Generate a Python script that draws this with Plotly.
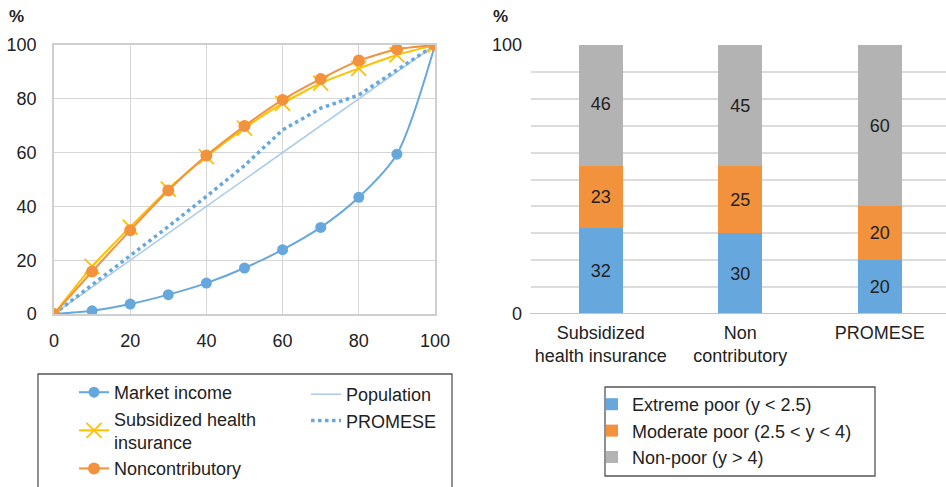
import plotly.graph_objects as go

# ---------------- data ----------------
pct = [0, 10, 20, 30, 40, 50, 60, 70, 80, 90, 100]
market_income = [0, 1.2, 3.7, 7.2, 11.5, 17.1, 23.9, 32.2, 43.4, 59.4, 100]
subsidized = [0, 17.7, 32.3, 46.4, 58.5, 69.1, 78.3, 85.8, 91.3, 96.3, 100]
noncontributory = [0, 15.8, 31.1, 45.9, 58.9, 69.9, 79.6, 87.4, 94.2, 98.4, 100]
population = [0, 10, 20, 30, 40, 50, 60, 70, 80, 90, 100]
promese = [0, 10.8, 21.4, 32.5, 43.7, 55.2, 68.4, 76.5, 81.4, 90.7, 100]

programs = ["Subsidized<br>health insurance", "Non<br>contributory", "PROMESE"]
extreme_poor = [32, 30, 20]
moderate_poor = [23, 25, 20]
non_poor = [46, 45, 60]

left_ticks = [0, 20, 40, 60, 80, 100]
right_grid = [0, 10, 20, 30, 40, 50, 60, 70, 80, 90, 100]
right_ticktext = ["0", "", "", "", "", "", "", "", "", "", "100"]

# ---------------- style ----------------
W, H = 946, 487
BLUE = "#66A8DD"
ORANGE = "#F2923D"
YELLOW = "#FFC000"
LIGHTBLUE = "#A9CBEA"
GREY = "#B3B3B3"
TXT = "#222222"
FONT = "Liberation Sans, Arial, sans-serif"
FS = 18


def px(x):
    return x / W


def py(y):
    return 1 - y / H


fig = go.Figure()

fig.add_trace(go.Scatter(
    x=pct, y=market_income, name="Market income", mode="lines+markers",
    line=dict(color=BLUE, width=2, shape="spline", smoothing=0.8),
    marker=dict(color=BLUE, size=11), legend="legend",
    xaxis="x", yaxis="y"))
fig.add_trace(go.Scatter(
    x=pct, y=population, name="Population", mode="lines",
    line=dict(color=LIGHTBLUE, width=1.5), legend="legend2",
    xaxis="x", yaxis="y"))
fig.add_trace(go.Scatter(
    x=pct, y=promese, name="PROMESE", mode="lines",
    line=dict(color=BLUE, width=3.5, dash="dot"), legend="legend2",
    xaxis="x", yaxis="y"))
fig.add_trace(go.Scatter(
    x=pct, y=subsidized, name="Subsidized health<br>insurance", mode="lines+markers",
    line=dict(color=YELLOW, width=2, shape="spline", smoothing=0.5),
    marker=dict(color=YELLOW, size=15, symbol="x-thin", line=dict(color=YELLOW, width=1.8)),
    legend="legend", xaxis="x", yaxis="y"))
fig.add_trace(go.Scatter(
    x=pct, y=noncontributory, name="Noncontributory", mode="lines+markers",
    line=dict(color=ORANGE, width=2, shape="spline", smoothing=0.5),
    marker=dict(color=ORANGE, size=12), legend="legend",
    xaxis="x", yaxis="y"))

# stacked bars
for vals, name, col in [(extreme_poor, "Extreme poor (y < 2.5)", BLUE),
                        (moderate_poor, "Moderate poor (2.5 < y < 4)", ORANGE),
                        (non_poor, "Non-poor (y > 4)", GREY)]:
    fig.add_trace(go.Bar(
        x=programs, y=vals, name=name, marker=dict(color=col, line=dict(width=0)),
        text=[str(v) for v in vals], textposition="inside", insidetextanchor="middle",
        textfont=dict(color=TXT, size=FS, family=FONT), width=0.315,
        legend="legend3", xaxis="x2", yaxis="y2"))

fig.update_layout(
    width=W, height=H, margin=dict(l=0, r=0, t=0, b=0, autoexpand=False),
    paper_bgcolor="white", plot_bgcolor="white",
    font=dict(family=FONT, size=FS, color=TXT),
    barmode="stack",
    xaxis=dict(domain=[px(54), px(435)], range=[0, 100], tickvals=left_ticks,
               showgrid=True, gridcolor="#D6D6D6", gridwidth=1.3,
               showline=True, linecolor="#CFCFCF", linewidth=1.5, mirror=True,
               zeroline=False, ticks="", ticklabelstandoff=10, automargin=False),
    yaxis=dict(domain=[py(314), py(45)], range=[0, 100], tickvals=left_ticks,
               showgrid=True, gridcolor="#D6D6D6", gridwidth=1.3,
               showline=True, linecolor="#CFCFCF", linewidth=1.5, mirror=True,
               zeroline=False, ticks="", ticklabelstandoff=12, automargin=False),
    xaxis2=dict(domain=[px(531), 1.0], range=[-0.5, 2.475], type="category",
                showgrid=False, showline=False, zeroline=False, ticks="",
                ticklabelstandoff=6, anchor="y2", automargin=False),
    yaxis2=dict(domain=[py(314), py(45)], range=[0, 100], tickvals=right_grid,
                ticktext=right_ticktext, showgrid=True, gridcolor="#DCDCDC", gridwidth=1.5,
                showline=False, zeroline=False, ticks="", ticklabelstandoff=8,
                anchor="x2", automargin=False),
    legend=dict(x=px(74), y=py(374), xanchor="left", yanchor="top",
                bgcolor="rgba(0,0,0,0)", borderwidth=0, font=dict(size=FS),
                tracegroupgap=0),
    legend2=dict(x=px(306), y=py(376), xanchor="left", yanchor="top",
                 bgcolor="rgba(0,0,0,0)", borderwidth=0, font=dict(size=FS),
                 tracegroupgap=0),
    legend3=dict(x=px(592), y=py(386), xanchor="left", yanchor="top",
                 bgcolor="rgba(0,0,0,0)", borderwidth=0, font=dict(size=FS),
                 tracegroupgap=0, traceorder="normal"),
    showlegend=True,
)

# zero line on right chart (darker)
fig.add_shape(type="line", xref="paper", yref="y2", x0=px(530), x1=1.0, y0=0, y1=0,
              line=dict(color="#C4C4C4", width=2))

# legend frames
fig.add_shape(type="rect", xref="paper", yref="paper", x0=px(38), x1=px(452),
              y0=py(520), y1=py(374), line=dict(color="#555555", width=1.3))
fig.add_shape(type="rect", xref="paper", yref="paper", x0=px(605), x1=px(875),
              y0=py(476), y1=py(387), line=dict(color="#555555", width=1.3))

# % labels
fig.add_annotation(text="<b>%</b>", xref="paper", yref="paper", x=px(16), y=py(16),
                   xanchor="center", yanchor="middle",
                   showarrow=False, font=dict(size=17, color=TXT))
fig.add_annotation(text="<b>%</b>", xref="paper", yref="paper", x=px(500), y=py(16),
                   xanchor="center", yanchor="middle",
                   showarrow=False, font=dict(size=17, color=TXT))

fig.write_html("out.html", config={"displayModeBar": False},
               post_script="document.body.style.margin='0';document.body.style.overflow='hidden';")
